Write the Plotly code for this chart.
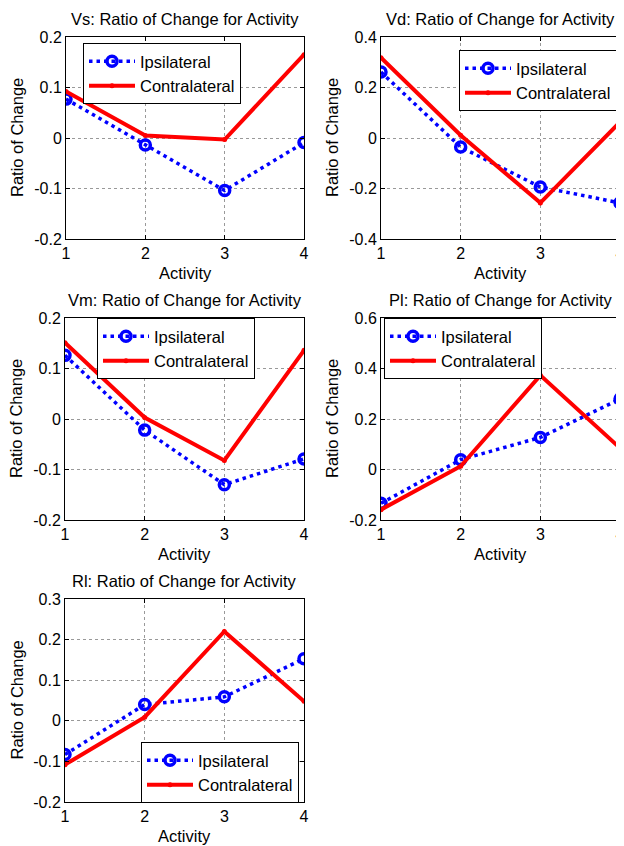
import plotly.graph_objects as go

activity = [1, 2, 3, 4]
tick_x = ["1", "2", "3", "4"]

panel_names = ["Vs", "Vd", "Vm", "Pl", "Rl"]

ipsi_vs = [0.077, -0.014, -0.104, -0.009]
contra_vs = [0.092, 0.005, -0.003, 0.165]

ipsi_vd = [0.261, -0.036, -0.194, -0.257]
contra_vd = [0.318, 0.011, -0.257, 0.063]

ipsi_vm = [0.126, -0.022, -0.130, -0.079]
contra_vm = [0.151, 0.003, -0.082, 0.136]

ipsi_pl = [-0.134, 0.039, 0.127, 0.279]
contra_pl = [-0.159, 0.013, 0.373, 0.085]

ipsi_rl = [-0.083, 0.040, 0.059, 0.153]
contra_rl = [-0.108, 0.009, 0.220, 0.048]

ticks_vs = [-0.2, -0.1, 0, 0.1, 0.2]
ticks_vd = [-0.4, -0.2, 0, 0.2, 0.4]
ticks_vm = [-0.2, -0.1, 0, 0.1, 0.2]
ticks_pl = [-0.2, 0, 0.2, 0.4, 0.6]
ticks_rl = [-0.2, -0.1, 0, 0.1, 0.2, 0.3]

ipsi_all = [ipsi_vs, ipsi_vd, ipsi_vm, ipsi_pl, ipsi_rl]
contra_all = [contra_vs, contra_vd, contra_vm, contra_pl, contra_rl]
ticks_all = [ticks_vs, ticks_vd, ticks_vm, ticks_pl, ticks_rl]

W, H = 624, 846
OFF = 8  # page body margin offset of the figure div
# plot-area boxes in screen pixels: (left, right, top, bottom)
boxes = [(66, 304, 37, 239), (381, 620, 37, 239),
         (65, 304, 318, 520), (381, 620, 318, 520),
         (65, 304, 599, 802)]
# legend top-left in screen pixels
legend_pos = [(83, 43), (459, 50), (97, 318), (384, 318), (141, 742)]

FONT = "Liberation Sans, Arial, sans-serif"
FS = 16.5

def px(x):
    return (x - OFF) / W

def py(y):
    return (H - (y - OFF)) / H

def fmt(v):
    if abs(v) < 1e-12:
        return "0"
    return "%.1f" % v

fig = go.Figure()
layout = dict(width=W, height=H,
              margin=dict(l=0, r=0, t=0, b=0, pad=0, autoexpand=False),
              paper_bgcolor="white", plot_bgcolor="white",
              font=dict(family=FONT, size=FS, color="black"),
              annotations=[])

for i in range(5):
    l, r, t, b = boxes[i]
    n = "" if i == 0 else str(i + 1)
    xa = "x" + n
    ya = "y" + n
    lg = "legend" + n
    fig.add_trace(go.Scatter(
        x=activity, y=ipsi_all[i], name="Ipsilateral", mode="lines+markers",
        xaxis=xa, yaxis=ya, legend=lg,
        line=dict(color="#0000ff", width=3.5, dash="3.5px,4px"),
        marker=dict(symbol="circle-open", size=10, color="#0000ff",
                    line=dict(width=3.5, color="#0000ff"))))
    fig.add_trace(go.Scatter(
        x=activity, y=contra_all[i], name="Contralateral", mode="lines+markers",
        xaxis=xa, yaxis=ya, legend=lg,
        line=dict(color="#ff0000", width=4),
        marker=dict(symbol="circle", size=5, color="#ff0000")))

    ticks = ticks_all[i]
    axis_common = dict(showline=True, linecolor="black", linewidth=1, mirror="ticks",
                       ticks="inside", ticklen=4, tickcolor="black",
                       showgrid=True, gridcolor="#999999", griddash="dot", gridwidth=1,
                       zeroline=False, tickfont=dict(size=16, family=FONT),
                       ticklabeloverflow="allow", automargin=False)
    layout["xaxis" + n] = dict(domain=[px(l), px(r)], range=[1, 4], anchor=ya,
                               tickvals=activity, ticktext=tick_x, **axis_common)
    layout["yaxis" + n] = dict(domain=[py(b), py(t)],
                               range=[ticks[0], ticks[-1]], anchor=xa,
                               tickvals=ticks, ticktext=[fmt(v) for v in ticks],
                               **axis_common)
    lx, ly = legend_pos[i]
    layout[lg] = dict(x=px(lx), y=py(ly), xanchor="left", yanchor="top",
                      bgcolor="white", bordercolor="black", borderwidth=1,
                      font=dict(size=FS, family=FONT), itemwidth=46,
                      tracegroupgap=0)
    cx = (l + r) / 2
    layout["annotations"].append(dict(
        text=panel_names[i] + ": Ratio of Change for Activity",
        x=px(cx), y=py(t - 18), xref="paper", yref="paper",
        showarrow=False, font=dict(size=FS, family=FONT), xanchor="center", yanchor="middle"))
    layout["annotations"].append(dict(
        text="Activity", x=px(cx), y=py(b + 34), xref="paper", yref="paper",
        showarrow=False, font=dict(size=FS, family=FONT), xanchor="center", yanchor="middle"))
    layout["annotations"].append(dict(
        text="Ratio of Change", x=px(l - 49), y=py((t + b) / 2),
        xref="paper", yref="paper", textangle=-90,
        showarrow=False, font=dict(size=FS, family=FONT), xanchor="center", yanchor="middle"))

fig.update_layout(**layout)
fig.write_html("out.html")
